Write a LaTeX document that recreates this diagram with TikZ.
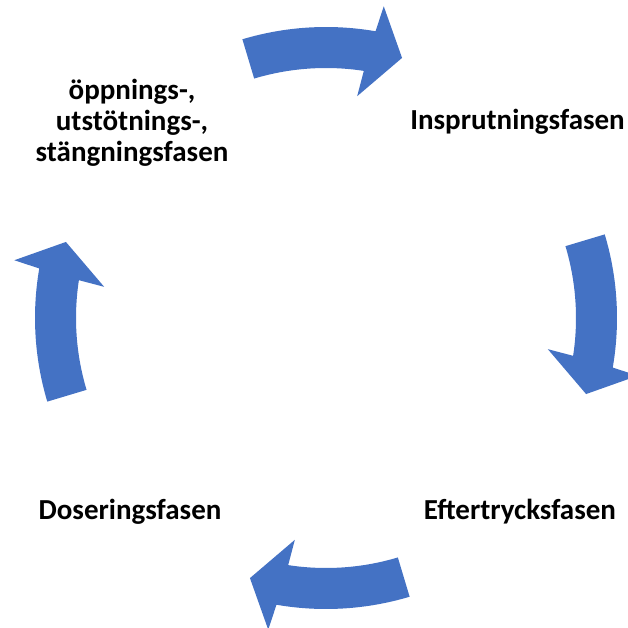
\documentclass[tikz,border=0pt]{standalone}
\usepackage{fontspec}
\setmainfont{Carlito}
\definecolor{arrowblue}{HTML}{4472C4}
\begin{document}
\begin{tikzpicture}[x=1pt,y=1pt,
  lbl/.style={font=\fontsize{29}{31.2}\selectfont\bfseries, inner sep=0pt, align=center, text=black},
  cyclearrow/.style={fill=arrowblue, draw=none}]
\useasboundingbox (0,0) rectangle (628,627);
\coordinate (c) at (326,309);
% four identical curved block arrows, rotated about the centre
\foreach \k in {0,1,2,3}{
  \begin{scope}[shift={(c)}, rotate=-90*\k]
    \fill[cyclearrow] (106.7:291pt) arc[start angle=106.7, end angle=80.2, radius=291pt]
      -- (79.5:317pt) -- (73.7:271pt) -- (82:224pt) -- (81.3:250pt)
      arc[start angle=81.3, end angle=106.7, radius=250pt] -- cycle;
  \end{scope}
}
\node[lbl, anchor=base] (insp) at (517.5,497) {Insprutningsfasen};
\node[lbl, anchor=base] (efter) at (520,108) {Eftertrycksfasen};
\node[lbl, anchor=base] (dos) at (130,108) {Doseringsfasen};
\node[lbl, anchor=base] (opp) at (132,465) {öppnings-,\\utstötnings-,\\stängningsfasen};
\end{tikzpicture}
\end{document}
